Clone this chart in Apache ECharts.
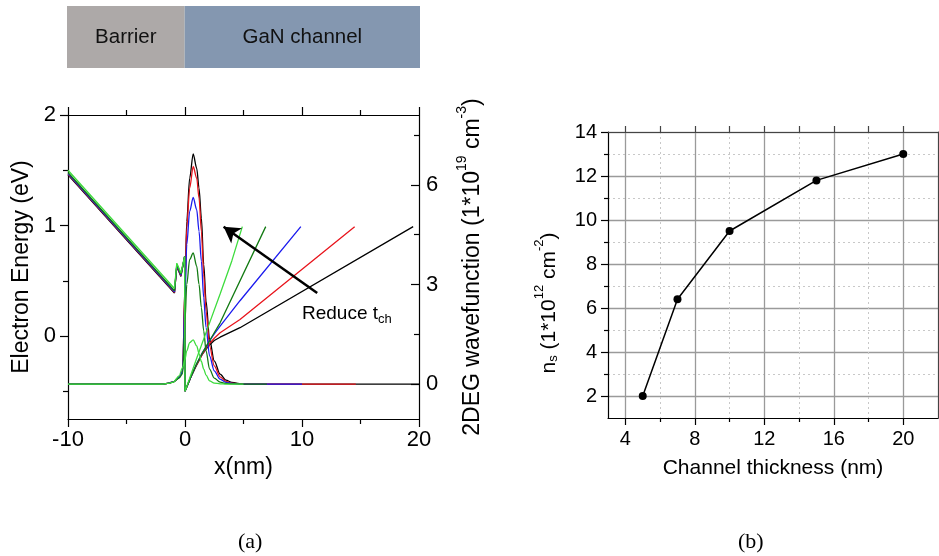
<!DOCTYPE html>
<html>
<head>
<meta charset="utf-8">
<script src="https://cdn.jsdelivr.net/npm/echarts@6/dist/echarts.min.js"></script>
<style>
  html, body { margin: 0; padding: 0; background: #fff; }
  #chart { width: 939px; height: 556px; }
</style>
</head>
<body>
<div id="chart"></div>
<script>
// (a) band diagram + 2DEG wavefunction for several channel thicknesses
const curveNames = ['20 nm', '15 nm', '10 nm', '7 nm', '5 nm']
const curveColors = ['#000000', '#e8141c', '#1a1aee', '#127a12', '#3ddc3d']

const barrierX = [-10, -0.9, -0.7, -0.35, -0.03]
const barrierE = [
  [1.46, 0.39, 0.63, 0.54, 0.72],
  [1.465, 0.395, 0.635, 0.545, 0.72],
  [1.47, 0.40, 0.64, 0.55, 0.72],
  [1.48, 0.41, 0.65, 0.56, 0.72],
  [1.50, 0.43, 0.66, 0.57, 0.72]
]
const channelX = [
  [0, 0.5, 1, 1.5, 2, 2.5, 3, 4.7, 19.5],
  [0, 0.5, 1, 1.5, 2, 2.5, 3, 4.7, 14.5],
  [0, 0.5, 1, 1.5, 2, 2.5, 3, 4.7, 9.9],
  [0, 0.5, 1, 1.5, 2, 2.5, 3, 6.9],
  [0, 1, 2, 3, 4, 4.9]
]
const channelE = [
  [-0.5, -0.37, -0.26, -0.16, -0.09, -0.04, -0.01, 0.076, 0.99],
  [-0.5, -0.37, -0.26, -0.16, -0.08, -0.02, 0.03, 0.15, 0.99],
  [-0.5, -0.37, -0.25, -0.15, -0.06, 0.02, 0.09, 0.32, 0.99],
  [-0.5, -0.37, -0.25, -0.15, -0.06, 0.03, 0.12, 0.99],
  [-0.5, -0.2, 0.09, 0.38, 0.68, 0.99]
]

const waveX = [-10, -2, -1.5, -1, -0.5, -0.2, 0, 0.15, 0.4, 0.7, 1.0, 1.2, 1.4, 1.6, 1.8, 2.1, 2.5, 3, 3.5, 4, 5]
const waveV = [
  [0, 0, 0.02, 0.07, 0.2, 0.4, 3.0, 4.9, 6.2, 6.93, 6.5, 5.9, 5.0, 3.6, 2.5, 1.35, 0.7, 0.3, 0.12, 0.05, 0],
  [0, 0, 0.02, 0.07, 0.2, 0.4, 2.9, 4.7, 5.9, 6.55, 6.2, 5.6, 4.6, 3.3, 2.2, 1.15, 0.55, 0.22, 0.08, 0.03, 0],
  [0, 0, 0.02, 0.07, 0.2, 0.38, 2.6, 4.2, 5.2, 5.62, 5.25, 4.6, 3.7, 2.6, 1.7, 0.85, 0.4, 0.15, 0.05, 0.02, 0],
  [0, 0, 0.02, 0.06, 0.18, 0.32, 1.9, 3.0, 3.75, 3.95, 3.55, 3.0, 2.3, 1.6, 1.0, 0.45, 0.18, 0.06, 0.02, 0.01, 0],
  [0, 0, 0.02, 0.06, 0.25, 0.5, 0.75, 1.0, 1.25, 1.33, 1.15, 0.92, 0.68, 0.45, 0.27, 0.1, 0.03, 0.01, 0, 0, 0]
]
const waveEnd = [20, 14.6, 10, 7, 5]

const layerNames = ['Barrier', 'GaN channel']
const layerEdges = [-10, 0, 20]
const layerColors = ['#ada9a8', '#8497b0']

const arrowFrom = [11.3, 0.39]
const arrowTo = [3.3, 0.99]
const arrowTextAt = [10.0, 0.2]

// (b) sheet density vs channel thickness
const thickness = [5, 7, 10, 15, 20]
const ns = [2.0, 6.4, 9.5, 11.8, 13.0]

const font = 'Liberation Sans, Arial, sans-serif'
const serif = 'Liberation Serif, DejaVu Serif, serif'
const axisBlack = { onZero: false, lineStyle: { color: '#000', width: 1.2 } }
const noLine = { show: false, onZero: false }

const bandSeries = curveNames.map((n, i) => ({
  name: n + ' band',
  type: 'line',
  xAxisIndex: 0,
  yAxisIndex: 0,
  showSymbol: false,
  symbol: 'none',
  lineStyle: { color: curveColors[i], width: 1.3 },
  data: barrierX.map((x, k) => [x, barrierE[i][k]])
    .concat(channelX[i].map((x, k) => [x, channelE[i][k]]))
}))

const waveSeries = curveNames.map((n, i) => ({
  name: n + ' wave',
  type: 'line',
  xAxisIndex: 0,
  yAxisIndex: 2,
  symbol: 'none',
  smooth: 0.3,
  smoothMonotone: 'x',
  lineStyle: { color: curveColors[i], width: 1.3 },
  data: waveX.map((x, k) => [x, waveV[i][k]]).concat([[waveEnd[i], 0]])
}))

// interleave so thinner channels sit on top
const leftSeries = []
curveNames.forEach((n, i) => { leftSeries.push(bandSeries[i], waveSeries[i]) })

leftSeries.push({
  name: 'arrow',
  type: 'line',
  xAxisIndex: 0,
  yAxisIndex: 0,
  data: [],
  markLine: {
    silent: true,
    symbol: ['none', 'arrow'],
    symbolSize: [14, 16],
    lineStyle: { color: '#000', width: 2.5, type: 'solid' },
    label: { show: false },
    data: [[{ coord: arrowFrom }, { coord: arrowTo }]]
  },
  markPoint: {
    symbol: 'circle',
    symbolSize: 0,
    data: [{ coord: arrowTextAt }],
    label: {
      show: true,
      position: 'right',
      distance: 0,
      formatter: '{a|Reduce t}{s|ch}',
      rich: {
        a: { fontFamily: font, fontSize: 19, color: '#000', lineHeight: 24, verticalAlign: 'middle' },
        s: { fontFamily: font, fontSize: 13, color: '#000', lineHeight: 12, verticalAlign: 'bottom' }
      }
    }
  }
})

const supRich = (size) => ({
  a: { fontFamily: font, fontSize: size, color: '#000', lineHeight: size + 6, verticalAlign: 'bottom' },
  sup: { fontFamily: font, fontSize: Math.round(size * 0.6), color: '#000', lineHeight: 12, verticalAlign: 'top' },
  sub: { fontFamily: font, fontSize: Math.round(size * 0.6), color: '#000', lineHeight: 10, verticalAlign: 'bottom' }
})

const chart = echarts.init(document.getElementById('chart'))
chart.setOption({
  animation: false,
  backgroundColor: '#fff',
  title: [
    { text: '(a)', left: 233, top: 526, textStyle: { fontFamily: serif, fontSize: 22, fontWeight: 'normal', color: '#000' } },
    { text: '(b)', left: 733, top: 526, textStyle: { fontFamily: serif, fontSize: 22, fontWeight: 'normal', color: '#000' } }
  ],
  grid: [
    { left: 68, right: 520, top: 115, bottom: 137 },
    { left: 67, right: 519, top: 6, height: 62 },
    { left: 608, right: 1, top: 132, bottom: 138 }
  ],
  xAxis: [
    { // 0 bottom major
      gridIndex: 0, type: 'value', min: -10, max: 20, position: 'bottom',
      name: 'x(nm)', nameLocation: 'middle', nameGap: 37,
      nameTextStyle: { fontFamily: font, fontSize: 23, color: '#000' },
      axisLine: axisBlack,
      axisTick: { show: true, inside: false, length: 8, customValues: [-10, 0, 10, 20], lineStyle: { color: '#000', width: 1.2 } },
      axisLabel: { customValues: [-10, 0, 10, 20], fontFamily: font, fontSize: 22, color: '#000', margin: 10 },
      splitLine: { show: false }
    },
    { // 1 bottom minor
      gridIndex: 0, type: 'value', min: -10, max: 20, position: 'bottom',
      axisLine: noLine,
      axisTick: { show: true, length: 5, customValues: [-5, 5, 15], lineStyle: { color: '#000', width: 1.2 } },
      axisLabel: { show: false }, splitLine: { show: false }
    },
    { // 2 top major
      gridIndex: 0, type: 'value', min: -10, max: 20, position: 'top',
      axisLine: axisBlack,
      axisTick: { show: true, length: 8, customValues: [-10, 0, 10, 20], lineStyle: { color: '#000', width: 1.2 } },
      axisLabel: { show: false }, splitLine: { show: false }
    },
    { // 3 top minor
      gridIndex: 0, type: 'value', min: -10, max: 20, position: 'top',
      axisLine: noLine,
      axisTick: { show: true, length: 5, customValues: [-5, 5, 15], lineStyle: { color: '#000', width: 1.2 } },
      axisLabel: { show: false }, splitLine: { show: false }
    },
    { // 4 layer strip
      gridIndex: 1, type: 'value', min: layerEdges[0], max: layerEdges[2], show: false
    },
    { // 5 (b) bottom major
      gridIndex: 2, type: 'value', min: 3, max: 22, position: 'bottom',
      name: 'Channel thickness (nm)', nameLocation: 'middle', nameGap: 40,
      nameTextStyle: { fontFamily: font, fontSize: 21, color: '#000' },
      axisLine: axisBlack,
      axisTick: { show: true, length: 7, customValues: [4, 8, 12, 16, 20], lineStyle: { color: '#000', width: 1.2 } },
      axisLabel: { customValues: [4, 8, 12, 16, 20], fontFamily: font, fontSize: 20, color: '#000', margin: 11 },
      splitLine: { show: true, lineStyle: { color: '#9a9a9a', width: 1.3 } }
    },
    { // 6 (b) bottom minor
      gridIndex: 2, type: 'value', min: 3, max: 22, position: 'bottom',
      axisLine: noLine,
      axisTick: { show: true, length: 4, customValues: [6, 10, 14, 18], lineStyle: { color: '#000', width: 1.2 } },
      axisLabel: { show: false },
      splitLine: { show: true, lineStyle: { color: '#c8c8c8', width: 1, type: [2, 3] } }
    },
    { // 7 (b) top
      gridIndex: 2, type: 'value', min: 3, max: 22, position: 'top',
      axisLine: { onZero: false, lineStyle: { color: '#444', width: 1.2 } },
      axisTick: { show: true, length: 6, customValues: [4, 6, 8, 10, 12, 14, 16, 18, 20], lineStyle: { color: '#444', width: 1.2 } },
      axisLabel: { show: false }, splitLine: { show: false }
    }
  ],
  yAxis: [
    { // 0 energy major
      gridIndex: 0, type: 'value', min: -0.75, max: 2, position: 'left',
      name: 'Electron Energy (eV)', nameLocation: 'middle', nameGap: 35,
      nameTextStyle: { fontFamily: font, fontSize: 23, color: '#000' },
      axisLine: axisBlack,
      axisTick: { show: true, length: 8, customValues: [0, 1, 2], lineStyle: { color: '#000', width: 1.2 } },
      axisLabel: { customValues: [0, 1, 2], fontFamily: font, fontSize: 22, color: '#000', margin: 12 },
      splitLine: { show: false }
    },
    { // 1 energy minor
      gridIndex: 0, type: 'value', min: -0.75, max: 2, position: 'left',
      axisLine: noLine,
      axisTick: { show: true, length: 5, customValues: [-0.5, 0.5, 1.5], lineStyle: { color: '#000', width: 1.2 } },
      axisLabel: { show: false }, splitLine: { show: false }
    },
    { // 2 wavefunction major
      gridIndex: 0, type: 'value', min: -1.05, max: 8.1, position: 'right',
      name: '{a|2DEG wavefunction (1*10}{sup|19}{a| cm}{sup|-3}{a|)}', nameLocation: 'middle', nameGap: 36, nameRotate: 90,
      nameTextStyle: { fontFamily: font, fontSize: 23, color: '#000', rich: supRich(23) },
      axisLine: axisBlack,
      axisTick: { show: true, inside: true, length: 8, customValues: [0, 3, 6], lineStyle: { color: '#000', width: 1.2 } },
      axisLabel: { customValues: [0, 3, 6], fontFamily: font, fontSize: 22, color: '#000', margin: 7 },
      splitLine: { show: false }
    },
    { // 3 wavefunction minor
      gridIndex: 0, type: 'value', min: -1.05, max: 8.1, position: 'right',
      axisLine: noLine,
      axisTick: { show: true, inside: true, length: 5, customValues: [1.5, 4.5, 7.5], lineStyle: { color: '#000', width: 1.2 } },
      axisLabel: { show: false }, splitLine: { show: false }
    },
    { // 4 layer strip
      gridIndex: 1, type: 'value', min: 0, max: 1, show: false
    },
    { // 5 (b) left major
      gridIndex: 2, type: 'value', min: 1, max: 14, position: 'left',
      name: '{a|n}{sub|s}{a| (1*10}{sup|12}{a| cm}{sup|-2}{a|)}', nameLocation: 'middle', nameGap: 48,
      nameTextStyle: { fontFamily: font, fontSize: 21, color: '#000', padding: [0, 56, 0, 0], rich: supRich(21) },
      axisLine: axisBlack,
      axisTick: { show: true, length: 7, customValues: [2, 4, 6, 8, 10, 12, 14], lineStyle: { color: '#000', width: 1.2 } },
      axisLabel: { customValues: [2, 4, 6, 8, 10, 12, 14], fontFamily: font, fontSize: 20, color: '#000', margin: 11 },
      splitLine: { show: true, lineStyle: { color: '#9a9a9a', width: 1.3 } }
    },
    { // 6 (b) left minor
      gridIndex: 2, type: 'value', min: 1, max: 14, position: 'left',
      axisLine: noLine,
      axisTick: { show: true, length: 4, customValues: [3, 5, 7, 9, 11, 13], lineStyle: { color: '#000', width: 1.2 } },
      axisLabel: { show: false },
      splitLine: { show: true, lineStyle: { color: '#c8c8c8', width: 1, type: [2, 3] } }
    },
    { // 7 (b) right frame
      gridIndex: 2, type: 'value', min: 1, max: 14, position: 'right',
      axisLine: { onZero: false, lineStyle: { color: '#444', width: 1.2 } },
      axisTick: { show: false }, axisLabel: { show: false }, splitLine: { show: false }
    }
  ],
  series: leftSeries.concat([
    {
      name: 'layers',
      type: 'line',
      xAxisIndex: 4,
      yAxisIndex: 4,
      data: [],
      markArea: {
        silent: true,
        data: layerNames.map((n, i) => [
          {
            name: n,
            xAxis: layerEdges[i],
            itemStyle: { color: layerColors[i], opacity: 1 },
            label: { show: true, position: 'inside', fontFamily: font, fontSize: 20.5, color: '#111' }
          },
          { xAxis: layerEdges[i + 1] }
        ])
      }
    },
    {
      name: 'ns',
      type: 'line',
      xAxisIndex: 5,
      yAxisIndex: 5,
      symbol: 'circle',
      symbolSize: 8,
      itemStyle: { color: '#000' },
      lineStyle: { color: '#000', width: 1.5 },
      data: thickness.map((t, i) => [t, ns[i]]),
      z: 5
    }
  ])
})
</script>
</body>
</html>
